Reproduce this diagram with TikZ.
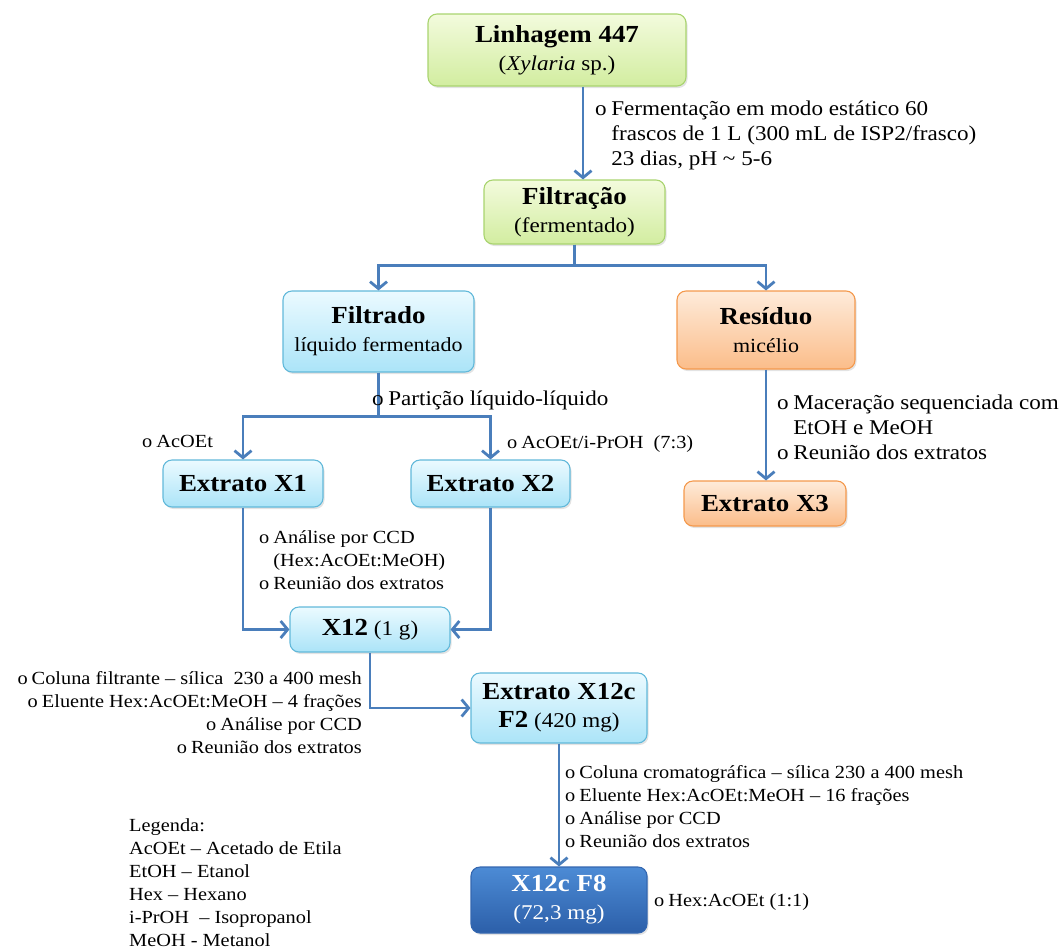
\documentclass[tikz,border=0pt]{standalone}
\usepackage{fontspec}
\setmainfont{Liberation Serif}[FakeStretch=1.1]
\usetikzlibrary{arrows.meta,shadows,calc}

\definecolor{linkblue}{RGB}{74,126,187}
\definecolor{grTop}{HTML}{F3FBDD}
\definecolor{grBot}{HTML}{D2EDA0}
\definecolor{grLine}{HTML}{A9D46F}
\definecolor{blTop}{HTML}{EBFAFF}
\definecolor{blBot}{HTML}{ABE4F8}
\definecolor{blLine}{HTML}{62B9DA}
\definecolor{orTop}{HTML}{FEEBDA}
\definecolor{orBot}{HTML}{FBBD8A}
\definecolor{orLine}{HTML}{F4994D}
\definecolor{dkTop}{HTML}{4C8BD5}
\definecolor{dkBot}{HTML}{2C5FA9}
\definecolor{dkLine}{HTML}{3467B0}

\newcommand\fbig{\fontsize{24.5}{28}\selectfont}
\newcommand\fmid{\fontsize{21}{25}\selectfont}
\newcommand\fsml{\fontsize{18.5}{23}\selectfont}
\newcommand\blt{o\hspace{0.22em}}
\newcommand\ind{\hphantom{o\hspace{0.22em}}}

\tikzset{
  stagebox/.style={rounded corners=9pt, line width=1.1pt, align=center,
    inner sep=0pt, font=\fontsize{21}{28}\selectfont,
    drop shadow={shadow xshift=1.5pt, shadow yshift=-2pt, opacity=0.22}},
  greenbox/.style={stagebox, draw=grLine, top color=grTop, bottom color=grBot},
  bluebox/.style={stagebox, draw=blLine, top color=blTop, bottom color=blBot},
  orangebox/.style={stagebox, draw=orLine, top color=orTop, bottom color=orBot},
  darkbox/.style={stagebox, draw=dkLine, top color=dkTop, bottom color=dkBot, text=white},
  link/.style={draw=linkblue, line width=2.8pt},
  arr/.style={link, -{Straight Barb[length=7pt,width=17pt]}},
  note/.style={inner sep=0pt, align=left, font=\fsml},
  bignote/.style={inner sep=0pt, align=left, font=\fmid},
}

\begin{document}
\begin{tikzpicture}[x=1pt, y=-1pt]
\useasboundingbox (0,0) rectangle (1063,951);

% stage boxes
\node[greenbox, minimum width=258pt, minimum height=72pt] (lin) at (557,50)
  {{\bfseries\fbig Linhagem 447}\\(\textit{Xylaria} sp.)};
\node[greenbox, minimum width=181pt, minimum height=64pt] (fil) at (574.5,212)
  {{\bfseries\fbig Filtração}\\(fermentado)};
\node[bluebox, minimum width=191pt, minimum height=81pt] (ftd) at (378.5,331.5)
  {{\bfseries\fbig Filtrado}\\{\fontsize{20}{28}\selectfont líquido fermentado}};
\node[orangebox, minimum width=178pt, minimum height=78pt] (res) at (766,330)
  {{\bfseries\fbig Resíduo}\\{\fontsize{20}{28}\selectfont micélio}};
\node[bluebox, minimum width=160pt, minimum height=47pt] (x1) at (243,483.5)
  {\bfseries\fbig Extrato X1};
\node[bluebox, minimum width=159pt, minimum height=47pt] (x2) at (490.5,483.5)
  {\bfseries\fbig Extrato X2};
\node[orangebox, minimum width=162pt, minimum height=45pt] (x3) at (765,503.5)
  {\bfseries\fbig Extrato X3};
\node[bluebox, minimum width=160pt, minimum height=45pt] (x12) at (370,629.5)
  {{\bfseries\fbig X12} (1 g)};
\node[bluebox, minimum width=176pt, minimum height=70pt] (x12c) at (559,708)
  {{\bfseries\fbig Extrato X12c}\\{\bfseries\fbig F2} (420 mg)};
\node[darkbox, minimum width=176pt, minimum height=66pt] (f8) at (559,900)
  {{\bfseries\fbig X12c F8}\\(72,3 mg)};

% connectors
\coordinate (c1) at (583,0);
\draw[arr] (lin.south -| c1) -- (fil.north -| c1);
\draw[arr] (fil.south) -- ++(0,21) -| (ftd.north);
\draw[arr] (fil.south) -- ++(0,21) -| (res.north);
\draw[arr] (ftd.south) -- ++(0,44) -| (x1.north);
\draw[arr] (ftd.south) -- ++(0,44) -| (x2.north);
\draw[arr] (res.south) -- (res.south |- x3.north);
\draw[arr] (x1.south) |- (x12.west);
\draw[arr] (x2.south) |- (x12.east);
\draw[arr] (x12.south) |- (x12c.west);
\draw[arr] (x12c.south) -- (x12c.south |- f8.north);

% step notes
\node[bignote, anchor=west] (n1) at (595,135)
  {\blt Fermentação em modo estático 60\\
   \ind frascos de 1 L (300 mL de ISP2/frasco)\\
   \ind 23 dias, pH \textasciitilde\ 5-6};
\node[bignote, anchor=west] (n2) at (372,400) {\blt Partição líquido-líquido};
\node[note, anchor=west] (n3) at (142,441) {\blt AcOEt};
\node[note, anchor=west] (n4) at (507,444) {\blt AcOEt/i-PrOH\ \ (7:3)};
\node[bignote, anchor=west] (n5) at (777,427)
  {\blt Maceração sequenciada com\\
   \ind EtOH e MeOH\\
   \blt Reunião dos extratos};
\node[note, anchor=west] (n6) at (259,560)
  {\blt Análise por CCD\\
   \ind(Hex:AcOEt:MeOH)\\
   \blt Reunião dos extratos};
\node[note, anchor=east, align=right] (n7) at (362,712.5)
  {\blt Coluna filtrante -- sílica\ \ 230 a 400 mesh\\
   \blt Eluente Hex:AcOEt:MeOH -- 4 frações\\
   \blt Análise por CCD\\
   \blt Reunião dos extratos};
\node[note, anchor=west] (n8) at (565,806.5)
  {\blt Coluna cromatográfica -- sílica 230 a 400 mesh\\
   \blt Eluente Hex:AcOEt:MeOH -- 16 frações\\
   \blt Análise por CCD\\
   \blt Reunião dos extratos};
\node[note, anchor=west] (n9) at (654,902) {\blt Hex:AcOEt (1:1)};

% legend
\node[note, anchor=west] (leg) at (129,883)
  {Legenda:\\
   AcOEt -- Acetado de Etila\\
   EtOH -- Etanol\\
   Hex -- Hexano\\
   i-PrOH\ \ -- Isopropanol\\
   MeOH - Metanol};
\end{tikzpicture}
\end{document}
